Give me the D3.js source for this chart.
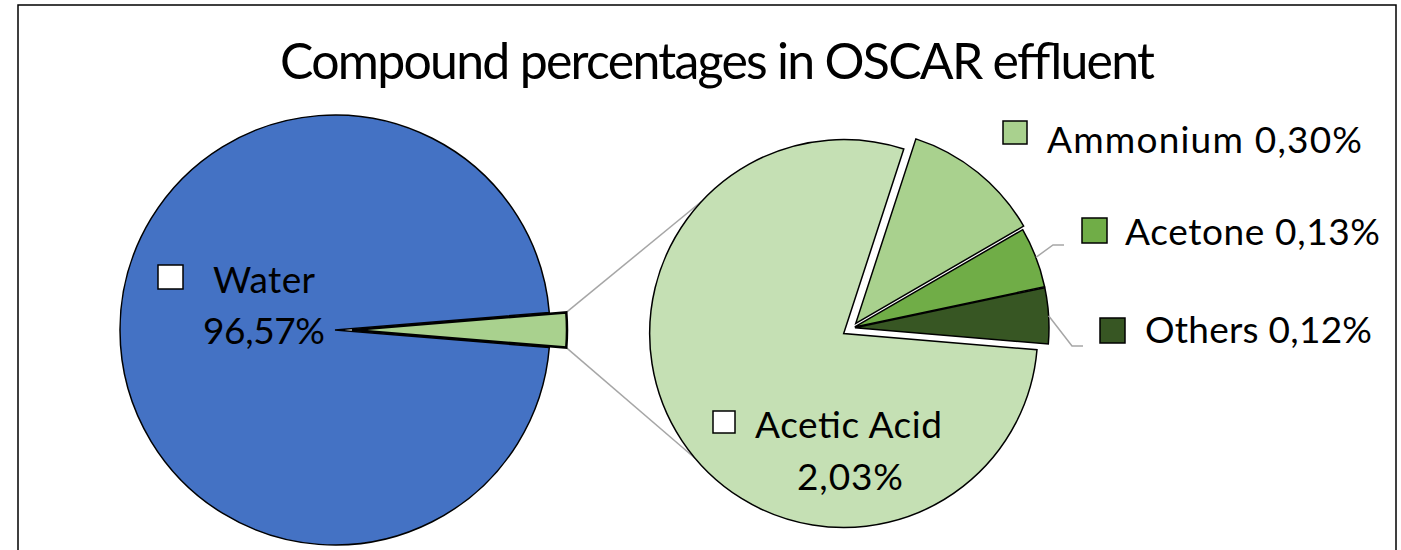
<!DOCTYPE html>
<html><head><meta charset="utf-8">
<script src="https://cdn.jsdelivr.net/npm/d3@7"></script>
<style>body{margin:0;background:#fff}text{font-family:Lato,"Open Sans",sans-serif;fill:#000}</style>
</head><body><svg id="c" width="1401" height="550"></svg>
<script>
// ---- data ----
const title = "Compound percentages in OSCAR effluent";
const categories = ["Water", "Acetic Acid", "Ammonium", "Acetone", "Others"];
const values = [96.57, 2.03, 0.30, 0.13, 0.12];
const valueLabels = ["96,57%", "2,03%", "0,30%", "0,13%", "0,12%"];

// ---- styles / layout ----
const palette = ["#4472C4", "#C5E0B4", "#A9D18E", "#70AD47", "#375623"];
const color = d3.scaleOrdinal().domain(categories).range(palette);
const svg = d3.select("#c");
const deg = Math.PI / 180;

svg.append("rect").attr("x", 18).attr("y", 5).attr("width", 1378).attr("height", 600)
  .attr("fill", "#fff").attr("stroke", "#000").attr("stroke-width", 1.5);

svg.append("text").attr("x", 280).attr("y", 79).attr("font-size", 50)
  .attr("textLength", 875).text(title);

// main pie data
const restSum = d3.sum(values.slice(1));
const mainData = [{name: "Water", value: values[0]}, {name: "Rest", value: restSum}];
const subData = categories.slice(1).map((c, i) => ({name: c, value: values[i + 1]}));

const L = {cx: 335, cy: 330, r: 215};
const R = {cx: 852, cy: 328, r: 194};
const explode = {Water: 0, Rest: 17, "Acetic Acid": 10, Ammonium: 6, Acetone: 3, Others: 3};

const frac = restSum / d3.sum(mainData, d => d.value);
const a0 = Math.PI / 2 + Math.PI * frac;
const mainArcs = d3.pie().sort(null).value(d => d.value).startAngle(a0).endAngle(a0 + 2 * Math.PI)(mainData);
const b0 = 94.8 * deg;
const subArcs = d3.pie().sort(null).value(d => d.value).startAngle(b0).endAngle(b0 + 2 * Math.PI)(subData);

function offset(d, c) {
  const m = (d.startAngle + d.endAngle) / 2, e = explode[d.data.name] || 0;
  return [c.cx + Math.sin(m) * e, c.cy - Math.cos(m) * e];
}
function pt(c, a, r) { return [c[0] + r * Math.sin(a), c[1] - r * Math.cos(a)]; }

// connector lines (under pies)
const sliver = mainArcs[1];
const sc = offset(sliver, L);
const acetic = subArcs[0];
const ac = offset(acetic, R);
const conn = [
  [pt(sc, sliver.startAngle, L.r), pt(ac, 313 * deg, R.r)],
  [pt(sc, sliver.endAngle, L.r), pt(ac, 230 * deg, R.r)]
];
svg.selectAll("line.conn").data(conn).join("line").attr("class", "conn")
  .attr("x1", d => d[0][0]).attr("y1", d => d[0][1]).attr("x2", d => d[1][0]).attr("y2", d => d[1][1])
  .attr("stroke", "#A6A6A6").attr("stroke-width", 1.5);

// main pie
const arcL = d3.arc().innerRadius(0).outerRadius(L.r);
svg.selectAll("path.main").data(mainArcs).join("path").attr("class", "main")
  .attr("transform", d => `translate(${offset(d, L)})`)
  .attr("d", arcL)
  .attr("fill", d => d.data.name === "Water" ? color("Water") : color("Ammonium"))
  .attr("stroke", "#000").attr("stroke-width", d => d.data.name === "Water" ? 1.5 : 2.5)
  .attr("stroke-linejoin", "miter");

// secondary pie
const arcR = d3.arc().innerRadius(0).outerRadius(R.r);
svg.selectAll("path.sub").data(subArcs).join("path").attr("class", "sub")
  .attr("transform", d => `translate(${offset(d, R)})`)
  .attr("d", arcR)
  .attr("fill", d => color(d.data.name))
  .attr("stroke", "#000").attr("stroke-width", 1.5);

// leader lines for Acetone and Others
const leaders = [
  {arc: subArcs[2], elbow: [1053, 245], end: [1064, 245]},
  {arc: subArcs[3], elbow: [1072, 346], end: [1083, 346]}
];
svg.selectAll("polyline.lead").data(leaders).join("polyline").attr("class", "lead")
  .attr("points", d => {
    const c = offset(d.arc, R);
    const s = pt(c, (d.arc.startAngle + d.arc.endAngle) / 2, R.r);
    return [s, d.elbow, d.end].map(p => p.join(",")).join(" ");
  })
  .attr("fill", "none").attr("stroke", "#A6A6A6").attr("stroke-width", 1.5);

// labels
const labelLayout = [
  {key: [158, 265, 25, 24], keyFill: "#fff", lines: [[213, 293, 102, categories[0]], [203, 344, 122, valueLabels[0]]]},
  {key: [713, 411, 22, 22], keyFill: "#fff", lines: [[755, 438, 187, categories[1]], [797, 490, 106, valueLabels[1]]]},
  {key: [1003, 121, 24, 23], keyFill: color(categories[2]), lines: [[1047, 153, 315, categories[2] + " " + valueLabels[2]]]},
  {key: [1082, 218, 25, 25], keyFill: color(categories[3]), lines: [[1125, 245, 255, categories[3] + " " + valueLabels[3]]]},
  {key: [1100, 318, 25, 25], keyFill: color(categories[4]), lines: [[1145, 343, 227, categories[4] + " " + valueLabels[4]]]}
];
const lg = svg.selectAll("g.lbl").data(labelLayout).join("g").attr("class", "lbl");
lg.append("rect").attr("x", d => d.key[0]).attr("y", d => d.key[1])
  .attr("width", d => d.key[2]).attr("height", d => d.key[3])
  .attr("fill", d => d.keyFill).attr("stroke", "#000").attr("stroke-width", 1.5);
lg.selectAll("text").data(d => d.lines).join("text")
  .attr("x", d => d[0]).attr("y", d => d[1]).attr("textLength", d => d[2])
  .attr("font-size", 37).text(d => d[3]);
</script></body></html>
